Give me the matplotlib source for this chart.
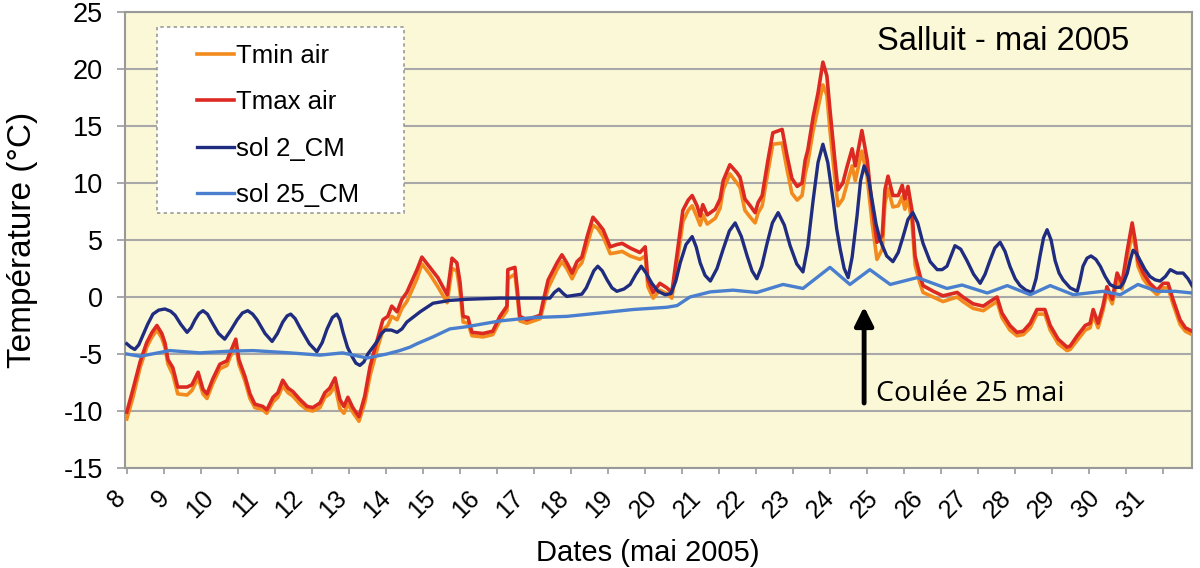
# Salluit - mai 2005 : air and soil temperatures

import matplotlib
matplotlib.use("Agg")
import matplotlib.pyplot as plt
from matplotlib.patches import Rectangle
import numpy as np

# air temperature (day of May, deg C)
air_days = [7.93, 8.07, 8.23, 8.38, 8.50, 8.61, 8.72, 8.79, 8.86, 8.97, 9.08, 9.29, 9.40, 9.54, 9.65,
            9.74, 9.87, 10.03, 10.19, 10.26, 10.39, 10.46, 10.60, 10.71, 10.82, 11.00, 11.09, 11.23,
            11.34, 11.45, 11.57, 11.68, 11.84, 12.00, 12.13, 12.29, 12.40, 12.51, 12.63, 12.74, 12.83,
            12.92, 13.03, 13.17, 13.30, 13.42, 13.58, 13.71, 13.82, 13.91, 14.03, 14.14, 14.25, 14.48,
            14.59, 14.77, 14.95, 15.16, 15.27, 15.38, 15.45, 15.52, 15.63, 15.72, 15.97, 16.19, 16.35,
            16.51, 16.53, 16.69, 16.74, 16.80, 16.96, 17.26, 17.32, 17.44, 17.64, 17.75, 17.86, 17.98,
            18.09, 18.20, 18.32, 18.45, 18.56, 18.68, 18.84, 18.99, 19.11, 19.29, 19.51, 19.63, 19.69,
            19.81, 19.96, 20.12, 20.23, 20.35, 20.48, 20.60, 20.69, 20.80, 20.87, 20.93, 21.03, 21.21,
            21.32, 21.39, 21.54, 21.70, 21.77, 21.88, 22.00, 22.11, 22.18, 22.27, 22.40, 22.51, 22.72,
            22.83, 22.94, 23.06, 23.17, 23.24, 23.30, 23.42, 23.53, 23.64, 23.73, 23.80, 23.91, 23.98,
            24.09, 24.19, 24.30, 24.37, 24.52, 24.64, 24.75, 24.86, 24.98, 25.04, 25.11, 25.22, 25.34,
            25.43, 25.49, 25.56, 25.65, 25.72, 25.83, 25.90, 26.13, 26.35, 26.67, 26.80, 27.03, 27.26,
            27.41, 27.57, 27.68, 27.86, 28.02, 28.16, 28.32, 28.47, 28.65, 28.77, 28.95, 29.15, 29.22,
            29.38, 29.56, 29.67, 29.74, 29.85, 29.96, 30.05, 30.17, 30.28, 30.39, 30.51, 30.62, 30.69,
            30.75, 30.87, 31.02, 31.18, 31.32, 31.43, 31.54, 31.70, 31.82, 31.97]
tmax_air = [-10.1, -8.1, -5.7, -4.0, -3.1, -2.5, -3.2, -4.0, -5.5, -6.2, -7.9, -7.9, -7.7, -6.6, -8.1,
            -8.5, -7.2, -5.9, -5.6, -4.9, -3.7, -5.5, -7.0, -8.5, -9.4, -9.6, -9.9, -8.8,
            -8.4, -7.3, -8.0, -8.3, -9.0, -9.6, -9.7, -9.3, -8.4, -8.0, -7.1, -9.0, -9.6,
            -8.8, -9.7, -10.5, -8.7, -6.1, -3.8, -2.0, -1.7, -0.8, -1.3, -0.2, 0.4, 2.4,
            3.5, 2.6, 1.7, 0.2, 3.4, 3.0, 1.3, -1.7, -1.8, -3.1, -3.2, -3.0, -1.7,
            -0.8, 2.4, 2.6, 0.8, -1.7, -2.0, -1.6, -0.5, 1.5, 3.0, 3.7, 3.0, 2.1,
            3.1, 3.5, 5.3, 7.0, 6.5, 5.9, 4.4, 4.6, 4.7, 4.3, 3.9, 4.4, 1.5,
            0.4, 1.2, 0.8, 0.4, 3.8, 7.6, 8.5, 8.9, 8.0, 7.1, 8.1, 7.2, 7.7,
            8.6, 10.2, 11.6, 10.9, 10.5, 8.6, 8.0, 7.4, 8.3, 8.9, 12.0, 14.4, 14.7,
            12.4, 10.4, 9.7, 10.0, 12.0, 12.9, 15.8, 17.9, 20.6, 19.4, 16.4, 12.0, 9.4,
            10.0, 11.5, 13.0, 11.5, 14.6, 12.0, 8.0, 4.8, 5.4, 9.4, 10.6, 8.9, 8.9,
            9.8, 8.6, 9.7, 7.6, 3.6, 1.9, 1.0, 0.5, 0.1, 0.4, 0.0, -0.6, -0.8,
            -0.4, 0.0, -1.4, -2.5, -3.1, -3.0, -2.3, -1.1, -1.1, -2.5, -3.7, -4.4, -4.3,
            -3.4, -2.5, -2.3, -1.1, -2.3, -0.8, 0.9, -0.2, 2.1, 1.2, 4.1, 6.5, 4.9,
            3.2, 2.1, 1.2, 0.6, 1.2, 1.2, -0.2, -2.0, -2.7, -3.0]
tmin_air = [-10.7, -8.8, -6.2, -4.4, -3.5, -2.9, -3.6, -4.4, -5.9, -6.8, -8.5, -8.6, -8.2, -7.1, -8.5,
            -8.9, -7.6, -6.3, -6.0, -5.3, -4.2, -5.9, -7.4, -8.9, -9.7, -9.9, -10.2, -9.2,
            -8.8, -7.8, -8.4, -8.7, -9.4, -9.9, -10.0, -9.7, -8.8, -8.5, -7.8, -9.8, -10.2,
            -9.4, -10.1, -10.9, -9.3, -6.9, -4.6, -2.9, -2.5, -1.7, -2.0, -1.0, -0.4, 1.6,
            2.9, 2.0, 0.9, -0.5, 2.5, 2.3, 0.5, -2.2, -2.3, -3.4, -3.5, -3.3, -2.1,
            -1.2, 1.6, 2.0, 0.2, -2.1, -2.3, -1.9, -1.0, 0.8, 2.4, 3.1, 2.5, 1.6,
            2.5, 3.0, 4.6, 6.3, 6.0, 5.3, 3.8, 3.9, 4.0, 3.6, 3.3, 3.6, 0.9,
            -0.1, 0.6, 0.3, -0.1, 3.0, 6.6, 7.6, 8.0, 7.0, 6.3, 7.2, 6.4, 6.9,
            7.8, 9.4, 10.8, 10.0, 9.6, 7.6, 7.0, 6.5, 7.4, 8.0, 11.0, 13.4, 13.5,
            11.2, 9.1, 8.5, 8.9, 10.8, 11.8, 14.6, 16.6, 18.6, 17.7, 14.6, 10.4, 8.0,
            8.6, 10.0, 11.5, 10.2, 12.8, 10.5, 6.5, 3.3, 4.2, 8.2, 9.5, 7.9, 8.0,
            8.8, 7.7, 8.6, 6.6, 2.8, 1.2, 0.4, 0.0, -0.4, 0.0, -0.4, -1.0, -1.2,
            -0.8, -0.4, -1.8, -2.9, -3.4, -3.3, -2.7, -1.5, -1.5, -2.9, -4.1, -4.7, -4.6,
            -3.8, -2.9, -2.7, -1.6, -2.7, -1.2, 0.4, -0.6, 1.5, 0.7, 3.4, 5.6, 4.4,
            2.7, 1.6, 0.8, 0.2, 0.8, 0.8, -0.6, -2.4, -3.0, -3.3]

# soil at 2 cm
sol2_days = [7.93, 8.02, 8.11, 8.20, 8.29, 8.40, 8.52, 8.65, 8.79, 8.92, 9.02, 9.15, 9.29, 9.38,
             9.47, 9.56, 9.65, 9.75, 9.85, 10.00, 10.14, 10.28, 10.42, 10.54, 10.66, 10.77, 10.87,
             11.05, 11.21, 11.33, 11.45, 11.55, 11.63, 11.73, 11.84, 12.05, 12.22, 12.34, 12.45,
             12.57, 12.67, 12.74, 12.81, 12.91, 13.01, 13.10, 13.19, 13.28, 13.37, 13.58, 13.68,
             13.76, 13.90, 14.03, 14.14, 14.25, 14.55, 14.84, 15.22, 15.61, 16.35, 17.48, 17.58,
             17.68, 17.78, 17.86, 18.20, 18.30, 18.38, 18.47, 18.56, 18.66, 18.77, 18.88, 18.99,
             19.15, 19.29, 19.42, 19.54, 19.65, 19.78, 19.92, 20.08, 20.21, 20.32, 20.42, 20.55,
             20.69, 20.78, 20.87, 20.98, 21.10, 21.25, 21.39, 21.53, 21.66, 21.80, 21.93, 22.04,
             22.15, 22.26, 22.38, 22.50, 22.63, 22.77, 22.90, 23.05, 23.19, 23.30, 23.42, 23.53,
             23.64, 23.75, 23.87, 23.95, 24.03, 24.12, 24.21, 24.30, 24.41, 24.49, 24.57, 24.66,
             24.75, 24.84, 24.93, 25.08, 25.22, 25.34, 25.45, 25.56, 25.67, 25.78, 25.90, 26.06,
             26.22, 26.33, 26.44, 26.53, 26.62, 26.75, 26.89, 27.04, 27.19, 27.30, 27.41, 27.52,
             27.64, 27.75, 27.86, 27.98, 28.09, 28.22, 28.36, 28.45, 28.54, 28.62, 28.70, 28.79,
             28.88, 28.97, 29.06, 29.22, 29.38, 29.44, 29.51, 29.60, 29.69, 29.80, 29.90, 30.01,
             30.12, 30.24, 30.35, 30.43, 30.51, 30.58, 30.64, 30.72, 30.80, 30.91, 31.02, 31.14,
             31.25, 31.37, 31.48, 31.63, 31.77, 31.88, 31.97]
sol2 = [-4.1, -4.4, -4.6, -4.2, -3.4, -2.4, -1.5, -1.15, -1.05, -1.25, -1.6, -2.4, -3.1, -2.7,
        -2.0, -1.45, -1.2, -1.5, -2.2, -3.2, -3.7, -2.9, -2.0, -1.4, -1.2, -1.5, -2.0,
        -3.2, -3.9, -3.2, -2.2, -1.65, -1.5, -1.9, -2.7, -4.1, -4.8, -4.0, -2.8,
        -1.8, -1.5, -2.0, -3.1, -4.4, -5.2, -5.8, -6.0, -5.7, -5.0, -3.9, -3.2,
        -2.9, -2.9, -3.1, -2.8, -2.2, -1.3, -0.55, -0.3, -0.2, -0.1, -0.1, 0.4,
        0.7, 0.3, 0.05, 0.25, 0.8, 1.5, 2.3, 2.7, 2.3, 1.5, 0.8, 0.5,
        0.7, 1.1, 2.0, 2.7, 2.1, 1.2, 0.5, 0.2, 0.3, 1.4, 3.0, 4.6,
        5.3, 4.4, 3.0, 1.9, 1.4, 2.5, 4.2, 5.8, 6.5, 5.3, 3.6, 2.3,
        1.6, 2.7, 4.7, 6.5, 7.4, 6.3, 4.5, 2.9, 2.2, 4.5, 8.5, 11.8,
        13.4, 11.8, 8.5, 6.0, 4.2, 2.5, 1.7, 3.5, 7.1, 10.2, 11.5, 10.6,
        8.5, 6.4, 5.0, 3.6, 3.1, 3.9, 5.3, 6.8, 7.4, 6.5, 4.7, 3.1,
        2.4, 2.4, 2.7, 3.6, 4.5, 4.2, 3.2, 2.0, 1.2, 2.0, 3.2, 4.3,
        4.8, 4.0, 2.7, 1.6, 1.0, 0.6, 0.4, 1.6, 3.6, 5.2, 5.9, 5.0,
        3.2, 2.1, 1.5, 0.8, 0.5, 1.4, 2.7, 3.4, 3.6, 3.3, 2.7, 1.8,
        1.1, 0.85, 0.85, 1.3, 2.1, 3.3, 4.1, 3.8, 3.2, 2.4, 1.8, 1.5,
        1.4, 1.8, 2.4, 2.1, 2.1, 1.6, 1.0]

# soil at 25 cm
sol25_days = [7.93, 8.23, 8.90, 9.58, 10.26, 10.78, 11.61, 12.29, 12.80, 13.35, 13.80, 14.09, 14.32,
              14.48, 14.84, 15.22, 15.61, 16.35, 17.10, 17.86, 18.61, 19.35, 20.12, 20.35, 20.64,
              21.10, 21.61, 22.15, 22.74, 23.19, 23.80, 24.25, 24.70, 25.16, 25.77, 26.44, 26.78,
              27.35, 27.80, 28.32, 28.77, 29.29, 29.96, 30.35, 30.75, 31.18, 31.59, 31.97]
sol25 = [-5.0, -5.2, -4.7, -4.9, -4.75, -4.7, -4.9, -5.1, -4.9, -5.35, -5.0, -4.7, -4.4,
         -4.1, -3.5, -2.8, -2.6, -2.1, -1.8, -1.7, -1.4, -1.1, -0.9, -0.75, 0.0,
         0.45, 0.6, 0.4, 1.1, 0.75, 2.6, 1.1, 2.4, 1.1, 1.7, 0.75, 1.05,
         0.35, 1.0, 0.2, 1.0, 0.2, 0.5, 0.2, 1.1, 0.5, 0.5, 0.35]

day_labels = list(range(8, 32))

plt.rcParams['font.family'] = ['Liberation Sans', 'DejaVu Sans']
plt.rcParams['axes.unicode_minus'] = False

fig = plt.figure(figsize=(12, 5.68), dpi=100)
ax = fig.add_axes([0.10417, 0.17606, 0.88917, 0.80282])
ax.set_facecolor('#FAF8D6')

ax.plot(air_days, tmin_air, color='#F28A1E', lw=2.6, label='Tmin air', zorder=3)
ax.plot(air_days, tmax_air, color='#DC2A22', lw=2.6, label='Tmax air', zorder=4)
ax.plot(sol2_days, sol2, color='#1F2C80', lw=2.4, label='sol 2_CM', zorder=5)
ax.plot(sol25_days, sol25, color='#4A7FCF', lw=2.4, label='sol 25_CM', zorder=5)

ax.set_xlim(7.89, 31.97)
ax.set_ylim(-15, 25)
ax.set_yticks(np.arange(-15, 26, 5))
ax.yaxis.grid(True, color='#A8A8A8', lw=1.5)
ax.set_axisbelow(True)

ax.set_xticks(day_labels)
ax.set_xticklabels([str(d) for d in day_labels], rotation=45, ha='right', va='top')
ax.set_xticks(7.93 + 0.835 * np.arange(29), minor=True)
ax.tick_params(axis='x', which='major', length=0, pad=13, labelsize=18)
ax.tick_params(axis='x', which='minor', length=4, width=1.2, color='#999999', direction='out')
ax.tick_params(axis='y', length=6, width=1.2, color='#999999', pad=10, labelsize=19.5)

for s in ax.spines.values():
    s.set_color('#999999')
    s.set_linewidth(1.5)

ax.set_ylabel('Température (°C)', fontsize=24)
ax.yaxis.set_label_coords(-0.082, 0.5)
ax.set_xlabel('Dates (mai 2005)', fontsize=21)
ax.xaxis.set_label_coords(0.49, -0.155)

# legend box (dashed, wider than its content)
ax.add_patch(Rectangle((0.030, 0.559), 0.2315, 0.408, transform=ax.transAxes,
                       facecolor='white', edgecolor='#999999', lw=1.2,
                       linestyle=(0, (2, 2)), zorder=6))
leg = ax.legend(loc='upper left', bbox_to_anchor=(0.0675, 0.930), frameon=False,
                fontsize=18.5, handlelength=1.45, handletextpad=0.05,
                labelspacing=0.87, borderpad=0, borderaxespad=0)
leg.set_zorder(7)

ax.text(0.705, 0.917, 'Salluit - mai 2005', transform=ax.transAxes, fontsize=23.5,
        va='baseline', ha='left', zorder=7)

ax.annotate('', xy=(24.57, -0.85), xytext=(24.57, -9.3),
            arrowprops=dict(arrowstyle='-|>', lw=3.5, color='black',
                            mutation_scale=28, shrinkA=0, shrinkB=0), zorder=8)
ax.text(24.84, -9.1, 'Coulée 25 mai', fontsize=20.5, family=['Open Sans', 'DejaVu Sans'],
        va='baseline', ha='left', zorder=8)

fig.savefig('out.png', dpi=100, facecolor='white')
